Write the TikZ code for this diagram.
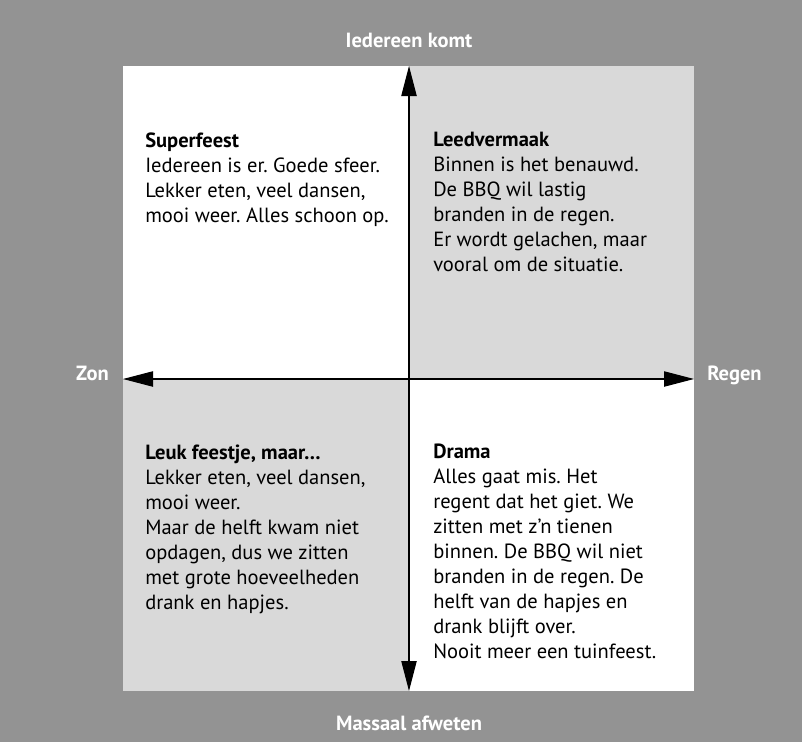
\documentclass[tikz,border=0pt]{standalone}
\usepackage{fontspec}
\setmainfont{PT Sans}
\frenchspacing
\usetikzlibrary{arrows.meta, positioning}
\definecolor{bggray}{HTML}{939393}
\definecolor{quadgray}{HTML}{D9D9D9}
\tikzset{
	quadtext/.style={anchor=north west, inner sep=0pt, align=left, font=\fontsize{15.4}{18.75}\selectfont},
	axislabel/.style={inner sep=0pt, text=white, font=\fontsize{15.4}{17}\selectfont\bfseries},
	% big triangle tips on both ends of the axes
	axis/.style={line width=0.8pt, black, {Triangle[length=22.5pt, width=11.5pt]}-{Triangle[length=22.5pt, width=11.5pt]}},
}

\begin{document}
\begin{tikzpicture}[x=0.75pt, y=-0.75pt]
	\fill[bggray] (0,0) rectangle (802,742);
	\fill[white] (123,66) rectangle (694,691);
	\fill[quadgray] (409,66) rectangle (694,379);
	\fill[quadgray] (123,379) rectangle (409,691);
	
	\coordinate (topend) at (409,66);
	\coordinate (bottomend) at (409,691);
	\coordinate (leftend) at (123,379);
	\coordinate (rightend) at (694,379);
	
	\node (iedereen) [axislabel, anchor=base] at (409,48) {Iedereen komt};
	\node (massaal) [axislabel, anchor=base] at (409,730) {Massaal afweten};
	\node (zon) [axislabel, anchor=base east] at (109,380) {Zon};
	\node (regen) [axislabel, anchor=base west] at (707,380) {Regen};
	
	\node (superfeest) [quadtext] at (145,133) {\textbf{Superfeest}\\
		Iedereen is er. Goede sfeer.\\
		Lekker eten, veel dansen,\\
		mooi weer. Alles schoon op.};
	\node (leedvermaak) [quadtext] at (433,132) {\textbf{Leedvermaak}\\
		Binnen is het benauwd.\\
		De BBQ wil lastig\\
		branden in de regen.\\
		Er wordt gelachen, maar\\
		vooral om de situatie.};
	\node (leuk) [quadtext] at (145,445) {\textbf{Leuk feestje, maar…}\\
		Lekker eten, veel dansen,\\
		mooi weer.\\
		Maar de helft kwam niet\\
		opdagen, dus we zitten\\
		met grote hoeveelheden\\
		drank en hapjes.};
	\node (drama) [quadtext] at (433,444) {\textbf{Drama}\\
		Alles gaat mis. Het\\
		regent dat het giet. We\\
		zitten met z’n tienen\\
		binnen. De BBQ wil niet\\
		branden in de regen. De\\
		helft van de hapjes en\\
		drank blijft over.\\
		Nooit meer een tuinfeest.};
	
	\begin{scope}[axis]
		\draw (leftend) -- (rightend);
		\draw (topend) -- (bottomend);
	\end{scope}
	
\end{tikzpicture}
\end{document}
